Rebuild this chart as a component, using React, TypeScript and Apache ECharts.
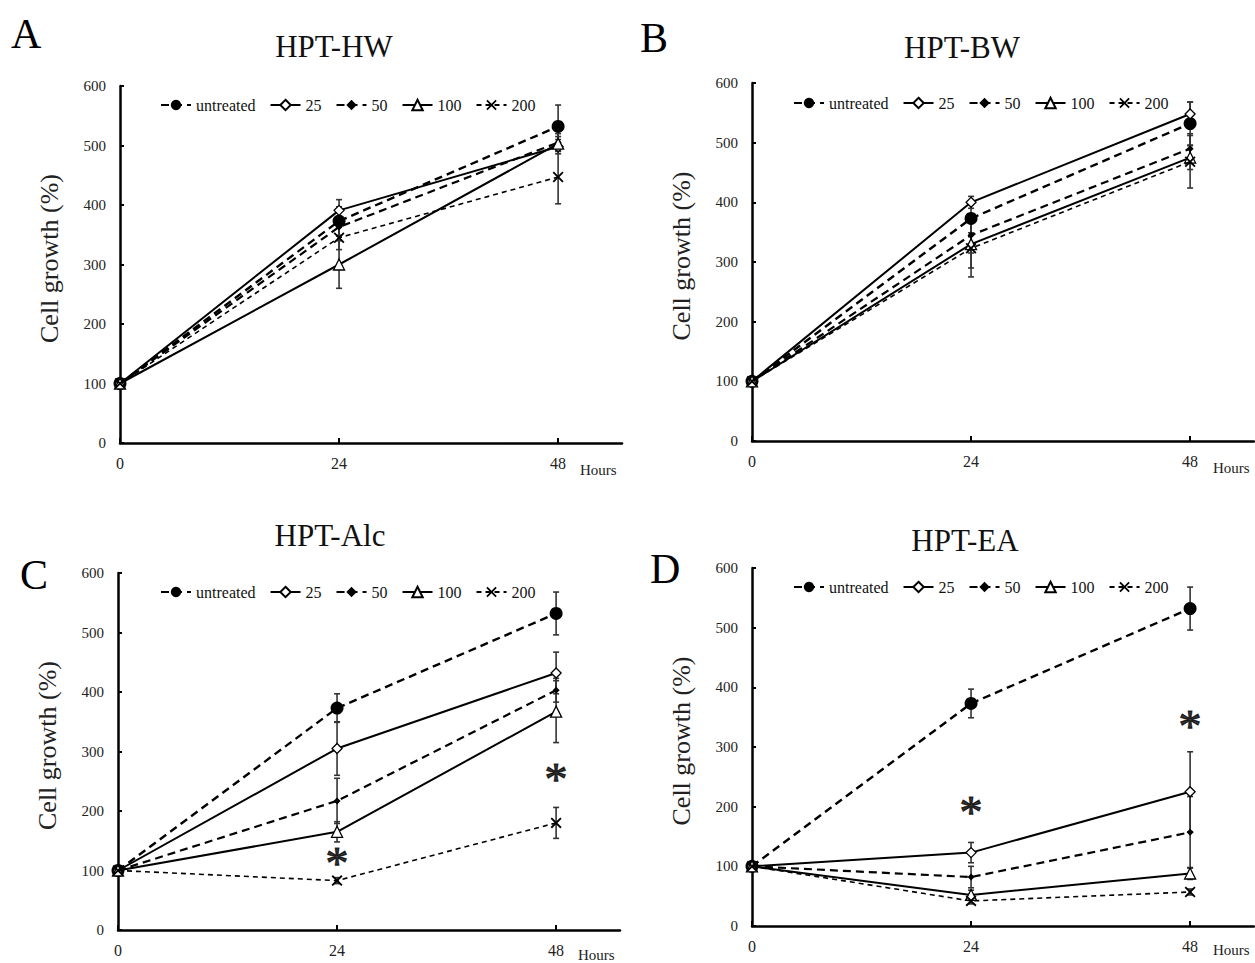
import React, { useEffect, useRef } from "react";
import * as echarts from "echarts";

// ---------- data ----------
const hours = [0, 24, 48];
const seriesNames = ["untreated", "25", "50", "100", "200"];
const xTicks = [0, 24, 48];

const ctrl = [100, 373, 532];
const ctrlSd = [0, 24, 36];

const hw25 = [100, 391, 498];
const hw50 = [100, 363, 505];
const hw100 = [100, 300, 503];
const hw200 = [100, 345, 447];
const hw25Sd = [0, 18, 12];
const hw50Sd = [0, 15, 15];
const hw100Sd = [0, 40, 12];
const hw200Sd = [0, 20, 45];

const bw25 = [100, 400, 548];
const bw50 = [100, 345, 490];
const bw100 = [100, 330, 475];
const bw200 = [100, 323, 468];
const bw25Sd = [0, 10, 20];
const bw50Sd = [0, 30, 25];
const bw100Sd = [0, 40, 20];
const bw200Sd = [0, 48, 44];

const alc25 = [100, 305, 432];
const alc50 = [100, 217, 403];
const alc100 = [100, 165, 367];
const alc200 = [100, 83, 180];
const alc25Sd = [0, 45, 35];
const alc50Sd = [0, 38, 20];
const alc100Sd = [0, 17, 52];
const alc200Sd = [0, 5, 26];

const ea25 = [100, 123, 225];
const ea50 = [100, 82, 157];
const ea100 = [100, 52, 88];
const ea200 = [100, 42, 57];
const ea25Sd = [0, 17, 67];
const ea50Sd = [0, 18, 60];
const ea100Sd = [0, 8, 10];
const ea200Sd = [0, 5, 5];

const alcStars = [[24, 120], [48, 262]];
const eaStars = [[24, 198], [48, 343]];

const panelLetters = ["A", "B", "C", "D"];
const panelTitles = ["HPT-HW", "HPT-BW", "HPT-Alc", "HPT-EA"];
const yTitle = "Cell growth (%)";
const xUnit = "Hours";

// ---------- layout / style ----------
const SERIF = "'Liberation Serif', 'Times New Roman', serif";
const xPath =
  "path://M0,1.2L1.2,0L5,3.8L8.8,0L10,1.2L6.2,5L10,8.8L8.8,10L5,6.2L1.2,10L0,8.8L3.8,5Z";

const styles = [
  { symbol: "circle", size: 13, type: [8, 5] as any, width: 2.4, fill: "#000" },
  { symbol: "diamond", size: 10, type: "solid" as any, width: 2, fill: "#fff" },
  { symbol: "diamond", size: 7, type: [8, 5] as any, width: 2.2, fill: "#000" },
  { symbol: "triangle", size: 11, type: "solid" as any, width: 2, fill: "#fff" },
  { symbol: xPath, size: 11, type: [5, 4] as any, width: 1.6, fill: "#000" },
];

const panels = [
  {
    vals: [ctrl, hw25, hw50, hw100, hw200],
    sds: [ctrlSd, hw25Sd, hw50Sd, hw100Sd, hw200Sd],
    stars: [] as number[][],
    grid: { left: 120, top: 86, width: 502, height: 357 },
    legend: { left: 155, top: 92 },
    letter: [11, 34],
    title: [334, 46],
    hoursPos: [580, 470],
  },
  {
    vals: [ctrl, bw25, bw50, bw100, bw200],
    sds: [ctrlSd, bw25Sd, bw50Sd, bw100Sd, bw200Sd],
    stars: [] as number[][],
    grid: { left: 752, top: 83, width: 502, height: 358 },
    legend: { left: 788, top: 90 },
    letter: [640, 38],
    title: [962, 47],
    hoursPos: [1213, 468],
  },
  {
    vals: [ctrl, alc25, alc50, alc100, alc200],
    sds: [ctrlSd, alc25Sd, alc50Sd, alc100Sd, alc200Sd],
    stars: alcStars,
    grid: { left: 118, top: 573, width: 502, height: 357 },
    legend: { left: 155, top: 579 },
    letter: [20, 575],
    title: [330, 535],
    hoursPos: [578, 955],
  },
  {
    vals: [ctrl, ea25, ea50, ea100, ea200],
    sds: [ctrlSd, ea25Sd, ea50Sd, ea100Sd, ea200Sd],
    stars: eaStars,
    grid: { left: 752, top: 568, width: 502, height: 358 },
    legend: { left: 788, top: 574 },
    letter: [650, 569],
    title: [965, 540],
    hoursPos: [1213, 950],
  },
];

function buildOption() {
  const grid: any[] = [];
  const xAxis: any[] = [];
  const yAxis: any[] = [];
  const series: any[] = [];
  const legend: any[] = [];
  const graphic: any[] = [];

  panels.forEach((p, i) => {
    grid.push({ ...p.grid, containLabel: false });
    xAxis.push({
      type: "value",
      gridIndex: i,
      min: 0,
      max: 55,
      axisLine: { show: true, onZero: false, lineStyle: { color: "#000", width: 2.5 } },
      axisTick: {
        show: true,
        inside: true,
        length: 5,
        customValues: xTicks,
        lineStyle: { color: "#000", width: 2 },
      },
      axisLabel: {
        customValues: xTicks,
        margin: 12,
        fontFamily: SERIF,
        fontSize: 16,
        color: "#222",
      },
      splitLine: { show: false },
    });
    yAxis.push({
      type: "value",
      gridIndex: i,
      min: 0,
      max: 600,
      interval: 100,
      name: yTitle,
      nameLocation: "middle",
      nameGap: 58,
      nameRotate: 90,
      nameTextStyle: { fontFamily: SERIF, fontSize: 26, color: "#222", padding: [0, 0, 0, 12] },
      axisLine: { show: true, lineStyle: { color: "#000", width: 2.5 } },
      axisTick: { show: true, inside: true, length: 4, lineStyle: { color: "#000", width: 2 } },
      axisLabel: { margin: 14, fontFamily: SERIF, fontSize: 15, color: "#222" },
      splitLine: { show: false },
    });

    // error bars
    const errData: number[][] = [];
    p.vals.forEach((v, s) => {
      v.forEach((val, k) => {
        const sd = p.sds[s][k];
        if (sd > 0) errData.push([hours[k], val - sd, val + sd]);
      });
    });
    series.push({
      type: "custom",
      name: "err" + i,
      xAxisIndex: i,
      yAxisIndex: i,
      z: 1,
      encode: { x: 0, y: [1, 2] },
      data: errData,
      renderItem: (params: any, api: any) => {
        const x = api.value(0);
        const lo = api.coord([x, api.value(1)]);
        const hi = api.coord([x, api.value(2)]);
        const w = 3;
        const st = { stroke: "#333", lineWidth: 1.6 };
        return {
          type: "group",
          children: [
            { type: "line", shape: { x1: lo[0], y1: lo[1], x2: hi[0], y2: hi[1] }, style: st },
            { type: "line", shape: { x1: lo[0] - w, y1: lo[1], x2: lo[0] + w, y2: lo[1] }, style: st },
            { type: "line", shape: { x1: hi[0] - w, y1: hi[1], x2: hi[0] + w, y2: hi[1] }, style: st },
          ],
        };
      },
    });

    p.vals.forEach((v, s) => {
      const st = styles[s];
      series.push({
        type: "line",
        name: seriesNames[s],
        xAxisIndex: i,
        yAxisIndex: i,
        z: 2 + s,
        data: hours.map((h, k) => [h, v[k]]),
        symbol: st.symbol,
        symbolSize: st.size,
        showSymbol: true,
        lineStyle: { color: "#000", width: st.width, type: st.type },
        itemStyle: { color: st.fill, borderColor: "#000", borderWidth: st.fill === "#fff" ? 1.3 : 0 },
        emphasis: { disabled: true },
      });
    });

    if (p.stars.length) {
      series.push({
        type: "scatter",
        name: "stars" + i,
        xAxisIndex: i,
        yAxisIndex: i,
        z: 10,
        symbol: "circle",
        symbolSize: 1,
        itemStyle: { color: "rgba(0,0,0,0)" },
        emphasis: { disabled: true },
        data: p.stars,
        label: {
          show: true,
          position: "inside",
          formatter: "*",
          fontFamily: SERIF,
          fontSize: 46,
          color: "#000",
          textBorderColor: "#000",
          textBorderWidth: 1.2,
          offset: [0, 5],
        },
      });
    }

    legend.push({
      left: p.legend.left,
      top: p.legend.top,
      orient: "horizontal",
      data: seriesNames,
      itemWidth: 30,
      itemHeight: 13,
      itemGap: 14,
      selectedMode: false,
      textStyle: { fontFamily: SERIF, fontSize: 16, color: "#111" },
    });

    graphic.push({
      type: "text",
      x: p.letter[0],
      y: p.letter[1],
      style: {
        text: panelLetters[i],
        font: `42px ${SERIF}`,
        fill: "#000",
        textAlign: "left",
        textVerticalAlign: "middle",
      },
    });
    graphic.push({
      type: "text",
      x: p.title[0],
      y: p.title[1],
      style: {
        text: panelTitles[i],
        font: `31px ${SERIF}`,
        fill: "#111",
        textAlign: "center",
        textVerticalAlign: "middle",
      },
    });
    graphic.push({
      type: "text",
      x: p.hoursPos[0],
      y: p.hoursPos[1],
      style: {
        text: xUnit,
        font: `15px ${SERIF}`,
        fill: "#222",
        textAlign: "left",
        textVerticalAlign: "middle",
      },
    });
  });

  return {
    animation: false,
    backgroundColor: "#fff",
    grid,
    xAxis,
    yAxis,
    series,
    legend,
    graphic,
  };
}

export default function App() {
  const ref = useRef<HTMLDivElement>(null);
  useEffect(() => {
    if (!ref.current) return;
    const chart = echarts.init(ref.current, undefined, { renderer: "svg" });
    chart.setOption(buildOption() as any);
    return () => chart.dispose();
  }, []);
  return (
    <div
      ref={ref}
      style={{ position: "absolute", left: 0, top: 0, width: 1255, height: 963, background: "#fff" }}
    />
  );
}
